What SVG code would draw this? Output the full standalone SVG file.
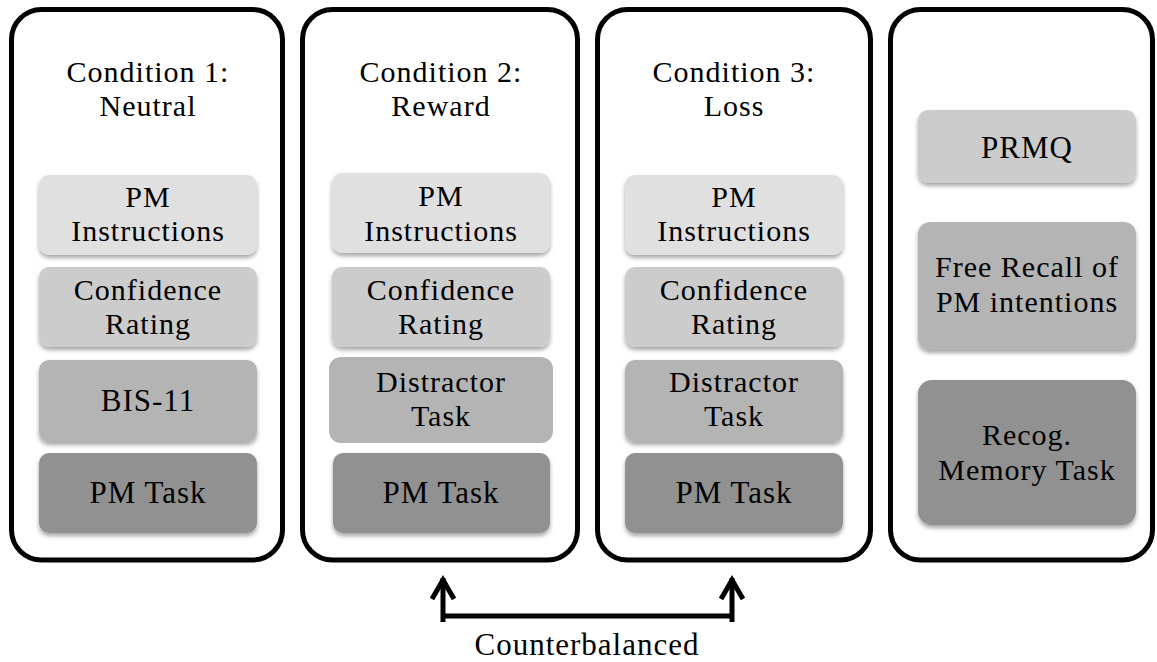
<svg xmlns="http://www.w3.org/2000/svg" width="1157" height="662" viewBox="0 0 1157 662">
<defs>
<filter id="sh" x="-10%" y="-10%" width="120%" height="130%">
<feDropShadow dx="0" dy="3" stdDeviation="2" flood-color="#000" flood-opacity="0.35"/>
</filter>
</defs>
<style>
.outer{fill:#fff;stroke:#000;stroke-width:5}
.s{filter:url(#sh)}
.c1{fill:#e0e0e0}
.c2{fill:#cccccc}
.c3{fill:#b4b4b4}
.c4{fill:#919191}
text{font-family:"Liberation Serif","Times New Roman",serif;font-size:30px;letter-spacing:1px;fill:#000;text-anchor:middle}
.one{font-size:31px}
.conn{fill:none;stroke:#000;stroke-width:5}
</style>
<rect width="1157" height="662" fill="#fff"/>

<g id="condition1">
<rect class="outer" x="11.5" y="9.5" width="271" height="550.5" rx="30"/>
<text x="148" y="82">Condition 1:</text>
<text x="148" y="116">Neutral</text>
<g id="c1-instr"><rect class="s c1" x="39" y="175" width="218" height="80" rx="10"/><text x="148" y="207">PM</text><text x="148" y="241">Instructions</text></g>
<g id="c1-conf"><rect class="s c2" x="39" y="267" width="218" height="80" rx="10"/><text x="148" y="300">Confidence</text><text x="148" y="334">Rating</text></g>
<g id="c1-bis"><rect class="s c3" x="39" y="360" width="218" height="82" rx="10"/><text class="one" x="148" y="411">BIS-11</text></g>
<g id="c1-pm"><rect class="s c4" x="39" y="453" width="218" height="80" rx="10"/><text class="one" x="148" y="503">PM Task</text></g>
</g>

<g id="condition2">
<rect class="outer" x="302.5" y="9.5" width="275" height="550.5" rx="30"/>
<text x="441" y="82">Condition 2:</text>
<text x="441" y="116">Reward</text>
<g id="c2-instr"><rect class="s c1" x="332" y="173" width="218" height="80" rx="10"/><text x="441" y="206">PM</text><text x="441" y="241">Instructions</text></g>
<g id="c2-conf"><rect class="s c2" x="332" y="267" width="218" height="80" rx="10"/><text x="441" y="300">Confidence</text><text x="441" y="334">Rating</text></g>
<g id="c2-dist"><rect class="c3" x="329" y="357" width="224" height="86" rx="12"/><text x="441" y="392">Distractor</text><text x="441" y="426">Task</text></g>
<g id="c2-pm"><rect class="s c4" x="333" y="453" width="217" height="80" rx="10"/><text class="one" x="441" y="503">PM Task</text></g>
</g>

<g id="condition3">
<rect class="outer" x="597.5" y="9.5" width="273" height="550.5" rx="30"/>
<text x="734" y="82">Condition 3:</text>
<text x="734" y="116">Loss</text>
<g id="c3-instr"><rect class="s c1" x="625" y="175" width="218" height="80" rx="10"/><text x="734" y="207">PM</text><text x="734" y="241">Instructions</text></g>
<g id="c3-conf"><rect class="s c2" x="625" y="267" width="218" height="80" rx="10"/><text x="734" y="300">Confidence</text><text x="734" y="334">Rating</text></g>
<g id="c3-dist"><rect class="s c3" x="625" y="360" width="218" height="82" rx="10"/><text x="734" y="392">Distractor</text><text x="734" y="426">Task</text></g>
<g id="c3-pm"><rect class="s c4" x="625" y="453" width="218" height="80" rx="10"/><text class="one" x="734" y="503">PM Task</text></g>
</g>

<g id="post">
<rect class="outer" x="890.5" y="9.5" width="262" height="550.5" rx="30"/>
<g id="prmq"><rect class="s c2" x="918" y="110" width="218" height="73" rx="10"/><text class="one" x="1027" y="158">PRMQ</text></g>
<g id="recall"><rect class="s c3" x="918" y="222" width="218" height="128" rx="12"/><text x="1027" y="277">Free Recall of</text><text x="1027" y="312">PM intentions</text></g>
<g id="recog"><rect class="s c4" x="918" y="380" width="218" height="145" rx="14"/><text x="1027" y="445">Recog.</text><text x="1027" y="480">Memory Task</text></g>
</g>

<g id="connectors">
<path class="conn" d="M443,578 L443,622 M443,616 L732,616 M732,622 L732,578"/>
<path class="conn" d="M432,599 L443,580 L454,599"/>
<path class="conn" d="M721,599 L732,580 L743,599"/>
<text class="one" x="587" y="655">Counterbalanced</text>
</g>
</svg>
